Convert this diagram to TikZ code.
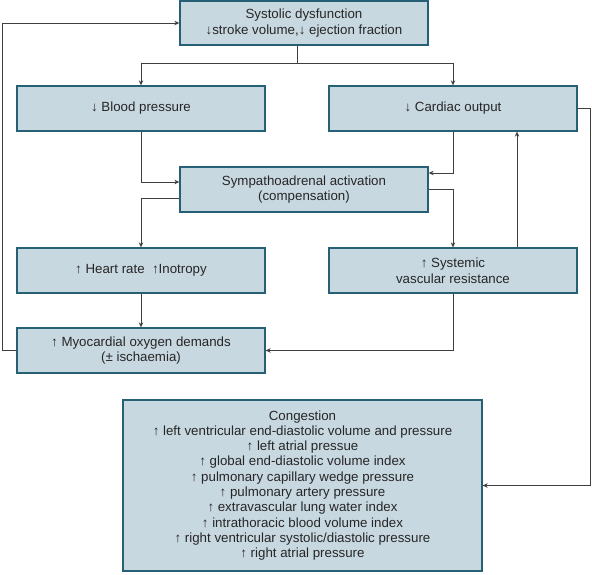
\documentclass[tikz,border=0pt]{standalone}
\usepackage{fontspec}
\setmainfont{Liberation Sans}
\usetikzlibrary{arrows.meta}
\definecolor{boxfill}{RGB}{200,216,225}
\definecolor{boxline}{RGB}{38,96,116}
\definecolor{ink}{RGB}{62,62,62}
\tikzset{
  >={Stealth[length=5pt,width=4.5pt]},
  box/.style={draw=boxline,fill=boxfill,line width=1.3pt,minimum width=248pt,
    minimum height=45pt,align=center,inner sep=2pt,text=black!85,
    font=\fontsize{13.3}{15.5}\selectfont},
  flow/.style={->,line width=0.9pt,draw=ink},
}
\begin{document}
\begin{tikzpicture}[x=1pt,y=-1pt]
  \useasboundingbox (0,0) rectangle (592,575);
  \node[box,minimum height=44pt] (top) at (304,23) {Systolic dysfunction\\↓stroke volume,↓ ejection fraction};
  \node[box] (bp) at (141,108.5) {↓ Blood pressure};
  \node[box] (co) at (453,108.5) {↓ Cardiac output};
  \node[box] (sym) at (304,189.5) {Sympathoadrenal activation\\(compensation)};
  \node[box] (hr) at (141,270.5) {↑ Heart rate\ \ ↑Inotropy};
  \node[box] (svr) at (453,270.5) {↑ Systemic\\vascular resistance};
  \node[box] (mod) at (141,350.5) {↑ Myocardial oxygen demands\\(± ischaemia)};
  \node[box,minimum width=359pt,minimum height=171pt,font=\fontsize{13.3}{15.3}\selectfont] (cong) at (302.5,485.5)
    {Congestion\\
     ↑ left ventricular end-diastolic volume and pressure\\
     ↑ left atrial pressue\\
     ↑ global end-diastolic volume index\\
     ↑ pulmonary capillary wedge pressure\\
     ↑ pulmonary artery pressure\\
     ↑ extravascular lung water index\\
     ↑ intrathoracic blood volume index\\
     ↑ right ventricular systolic/diastolic pressure\\
     ↑ right atrial pressure};
  % split below the top box
  \coordinate (split) at (297,63);
  \draw[line width=0.9pt,draw=ink] ([xshift=-7pt]top.south) -- (split);
  \draw[flow] (split) -| (bp);
  \draw[flow] (split) -| (co);
  % into and out of the sympathoadrenal box
  \draw[flow] (bp) |- ([yshift=7.5pt]sym.west);
  \draw[flow] (co) |- ([yshift=16.5pt]sym.east);
  \draw[flow] ([yshift=-8.5pt]sym.west) -| (hr);
  \draw[flow] (sym.east) -| (svr);
  \draw[flow] ([xshift=64pt]svr.north) -- ([xshift=64pt]co.south);
  \draw[flow] (hr) -- (mod);
  \draw[flow] (svr) |- (mod);
  % feedback loops
  \draw[flow] (mod.west) -- ++(-14,0) |- (top.west);
  \draw[flow] (co.east) -- ++(13,0) |- (cong.east);
\end{tikzpicture}
\end{document}
